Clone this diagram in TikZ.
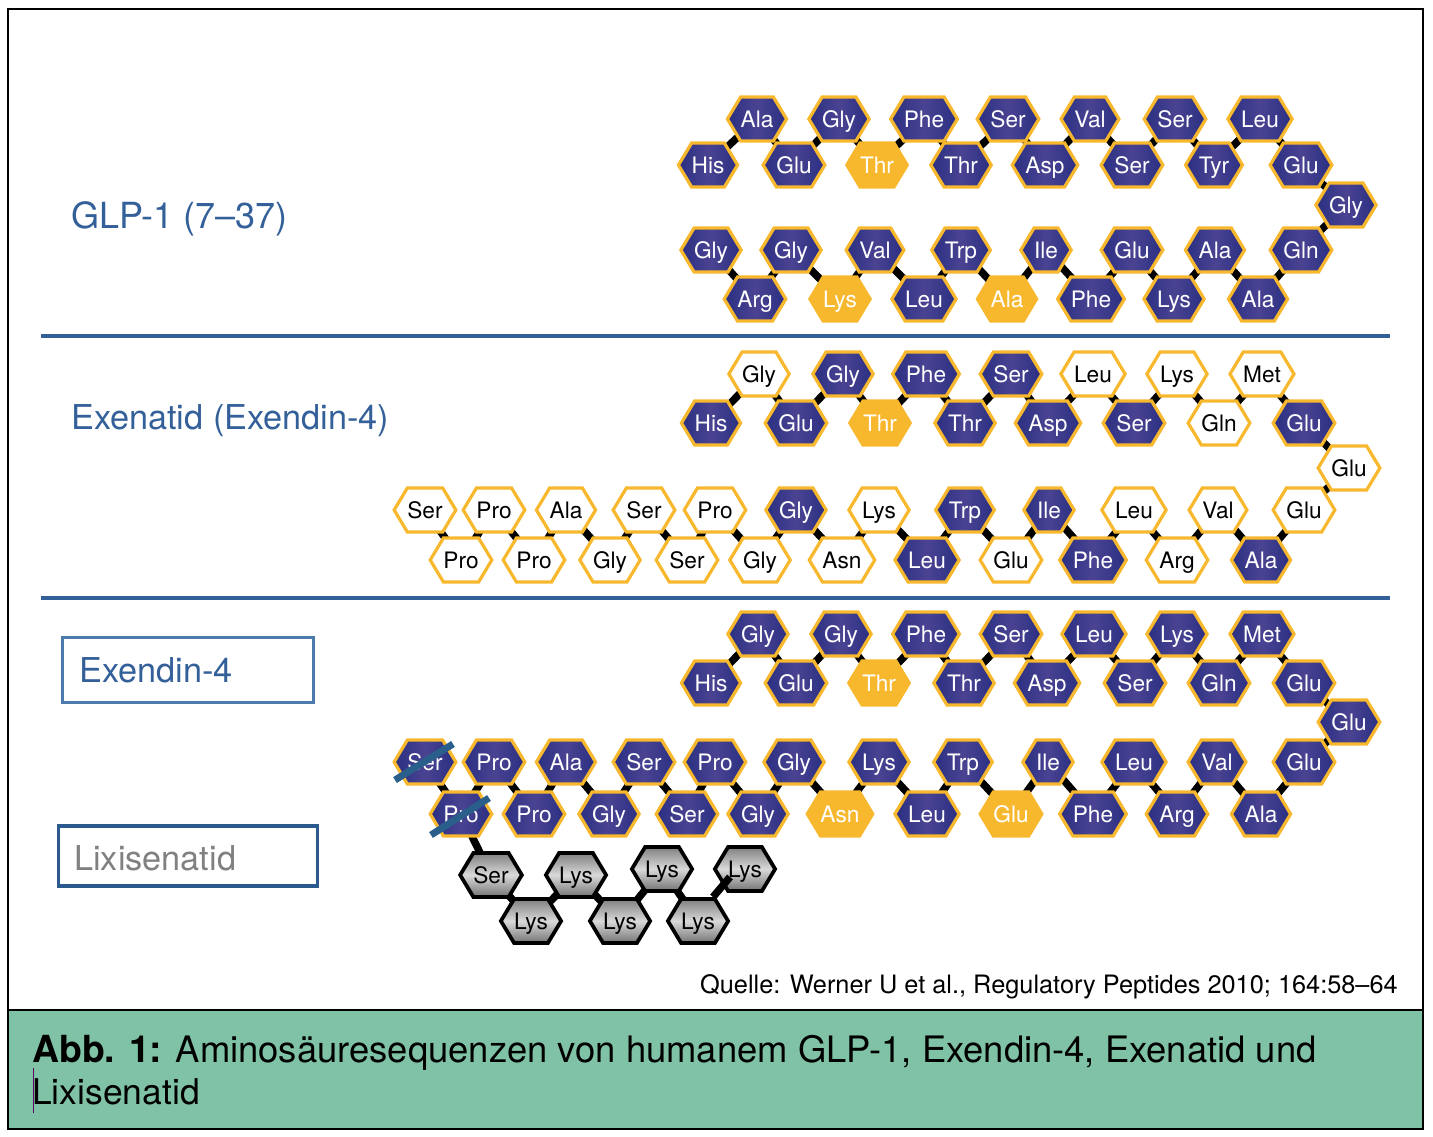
\documentclass[tikz,border=0pt]{standalone}
\usepackage{fontspec}
\setmainfont{TeX Gyre Heros}
\usetikzlibrary{shapes.symbols, backgrounds}
\definecolor{ambar}{HTML}{F8B82E}
\definecolor{ambluea}{HTML}{2A2F82}
\definecolor{amblueb}{HTML}{4A4392}
\definecolor{titleblue}{HTML}{34609A}
\definecolor{boxblue}{HTML}{4A7BAA}
\definecolor{boxdark}{HTML}{2D5A8C}
\definecolor{capgreen}{HTML}{7FC2A5}
\definecolor{strikeblue}{HTML}{2A5F8C}

\begin{document}
\begin{tikzpicture}[
  x=0.75pt, y=-0.75pt,
% 1. Residues are hexagons with two pointed ends
  res/.style={
    shape=signal,
    signal to=west and east,
    signal pointer angle=118,
    minimum height=33pt,
    inner xsep=0pt,
    inner ysep=0pt,
    line width=2.4pt,
    font=\fontsize{17}{17}\selectfont,
    text height=12pt,
    text depth=0pt
  },
  ami/.style={res, draw=ambar, left color=ambluea, right color=ambluea, middle color=amblueb, text=white},
  sub/.style={res, draw=ambar, fill=ambar, text=white},
  wht/.style={res, draw=ambar, fill=white, text=black},
  lys/.style={res, line width=2.8pt, draw=black, top color=black!50, bottom color=black!55, middle color=black!15, text=black},
% 2. Peptide bonds and struck-out residues
  bond/.style={draw=black, line width=5.6pt},
  strike/.style={draw=strikeblue, line width=5.2pt},
  rule/.style={draw=titleblue, line width=2.6pt},
  title/.style={anchor=base west, inner sep=0pt, text=titleblue, font=\fontsize{25.7}{26}\selectfont}
]
  \useasboundingbox (0,0) rectangle (1433,1136);

  % Frame and caption band
  \draw[fill=capgreen, line width=0.9pt] (8,1010) rectangle (1423,1129);
  \draw[line width=0.9pt] (8,9) rectangle (1423,1129);
  \draw[rule] (41,336) -- (1390,336);
  \draw[rule] (41,598) -- (1390,598);

  % Titles
  \node[title, font=\fontsize{27}{27}\selectfont] (tglp) at (71,228) {GLP-1 (7–37)};
  \node[title] (texe) at (71,429) {Exenatid (Exendin-4)};
  \node[draw=boxblue, line width=2.4pt, minimum width=188pt, minimum height=49pt, inner sep=0pt] (bexd) at (188,670) {};
  \node[title] (texd) at (79,682) {Exendin-4};
  \node[draw=boxdark, line width=2.4pt, minimum width=194pt, minimum height=45pt, inner sep=0pt] (blix) at (188,856) {};
  \node[title, text=black!50] (tlix) at (74,870) {Lixisenatid};

  % GLP-1, from His to the last Gly
  \foreach \x/\y/\aa/\sty [count=\i] in {708/165/His/ami, 757/119/Ala/ami, 794/165/Glu/ami, 839/119/Gly/ami,
    877/165/Thr/sub, 924/119/Phe/ami, 961/165/Thr/ami, 1008/119/Ser/ami, 1045/165/Asp/ami, 1090/119/Val/ami,
    1132/165/Ser/ami, 1175/119/Ser/ami, 1214/165/Tyr/ami, 1260/119/Leu/ami, 1301/165/Glu/ami, 1346/205/Gly/ami,
    1301/250/Gln/ami, 1258/299/Ala/ami, 1215/250/Ala/ami, 1174/299/Lys/ami, 1132/250/Glu/ami, 1091/299/Phe/ami,
    1046/250/Ile/ami, 1007/299/Ala/sub, 961/250/Trp/ami, 924/299/Leu/ami, 875/250/Val/ami, 840/299/Lys/sub,
    791/250/Gly/ami, 755/299/Arg/ami, 711/250/Gly/ami}
    \node[\sty] (g\i) at (\x,\y) {\aa};

  % Exenatid
  \foreach \x/\y/\aa/\sty [count=\i] in {711/423/His/ami, 759/374/Gly/wht, 796/423/Glu/ami, 843/374/Gly/ami,
    880/423/Thr/sub, 926/374/Phe/ami, 965/423/Thr/ami, 1011/374/Ser/ami, 1048/423/Asp/ami, 1093/374/Leu/wht,
    1134/423/Ser/ami, 1177/374/Lys/wht, 1219/423/Gln/wht, 1262/374/Met/wht, 1304/423/Glu/ami, 1349/468/Glu/wht,
    1304/510/Glu/wht, 1261/560/Ala/ami, 1218/510/Val/wht, 1177/560/Arg/wht, 1134/510/Leu/wht, 1093/560/Phe/ami,
    1049/510/Ile/ami, 1011/560/Glu/wht, 965/510/Trp/ami, 927/560/Leu/ami, 879/510/Lys/wht, 842/560/Asn/wht,
    796/510/Gly/ami, 760/560/Gly/wht, 715/510/Pro/wht, 687/560/Ser/wht, 644/510/Ser/wht, 610/560/Gly/wht,
    566/510/Ala/wht, 534/560/Pro/wht, 494/510/Pro/wht, 461/560/Pro/wht, 425/510/Ser/wht}
    \node[\sty] (x\i) at (\x,\y) {\aa};

  % Exendin-4 and the Lixisenatid tail
  \foreach \x/\y/\aa/\sty [count=\i] in {711/683/His/ami, 758/634/Gly/ami, 796/683/Glu/ami, 841/634/Gly/ami,
    879/683/Thr/sub, 926/634/Phe/ami, 964/683/Thr/ami, 1011/634/Ser/ami, 1047/683/Asp/ami, 1094/634/Leu/ami,
    1135/683/Ser/ami, 1177/634/Lys/ami, 1219/683/Gln/ami, 1262/634/Met/ami, 1304/683/Glu/ami, 1349/722/Glu/ami,
    1304/762/Glu/ami, 1261/814/Ala/ami, 1217/762/Val/ami, 1177/814/Arg/ami, 1134/762/Leu/ami, 1093/814/Phe/ami,
    1048/762/Ile/ami, 1011/814/Glu/sub, 963/762/Trp/ami, 927/814/Leu/ami, 879/762/Lys/ami, 840/814/Asn/sub,
    794/762/Gly/ami, 758/814/Gly/ami, 715/762/Pro/ami, 687/814/Ser/ami, 644/762/Ser/ami, 609/814/Gly/ami,
    566/762/Ala/ami, 534/814/Pro/ami, 494/762/Pro/ami, 461/814/Pro/ami, 425/762/Ser/ami}
    \node[\sty] (e\i) at (\x,\y) {\aa};
  \foreach \x/\y [count=\i] in {531/921, 576/875, 620/921, 662/869, 698/921, 745/869}
    \node[lys] (k\i) at (\x,\y) {Lys};
  \node[lys] (k0) at (491,875) {Ser};

  % Bonds stay behind the hexagons
  \begin{scope}[on background layer]
    \foreach \i [evaluate=\i as \j using int(\i+1)] in {1,...,30}
      \draw[bond] (g\i.center) -- (g\j.center);
    \foreach \i [evaluate=\i as \j using int(\i+1)] in {1,...,38} {
      \draw[bond] (x\i.center) -- (x\j.center);
      \draw[bond] (e\i.center) -- (e\j.center);
    }
    \draw[bond] (e38.center) -- (k0.center);
    \draw[bond] (k0.center) -- (k1.center);
    \foreach \i [evaluate=\i as \j using int(\i+1)] in {1,...,4}
      \draw[bond] (k\i.center) -- (k\j.center);
  \end{scope}
  % This one runs over its hexagon
  \draw[bond] (k6) +(-15,8) -- +(-32,28);

  % Removed residues
  \draw[strike] (e39) +(-30,18) -- +(28,-18);
  \draw[strike] (e38) +(-30,21) -- +(28,-16);

  % Source and caption
  \node[anchor=base east, inner sep=0pt, font=\fontsize{19}{19}\selectfont] (src) at (1398,993) {Quelle: Werner U et al., Regulatory Peptides 2010; 164:58–64};
  \node[anchor=base west, inner sep=0pt, font=\fontsize{27.3}{28}\selectfont] (cap1) at (32,1062) {\textbf{\fontsize{28}{28}\selectfont Abb. 1:} Aminosäuresequenzen von humanem GLP-1, Exendin-4, Exenatid und};
  \node[anchor=base west, inner sep=0pt, font=\fontsize{26.6}{28}\selectfont] (cap2) at (32,1104) {Lixisenatid};
  \draw[draw=black!40!red!60!blue, line width=0.6pt] (33,1113) -- (33,1068);
\end{tikzpicture}
\end{document}
